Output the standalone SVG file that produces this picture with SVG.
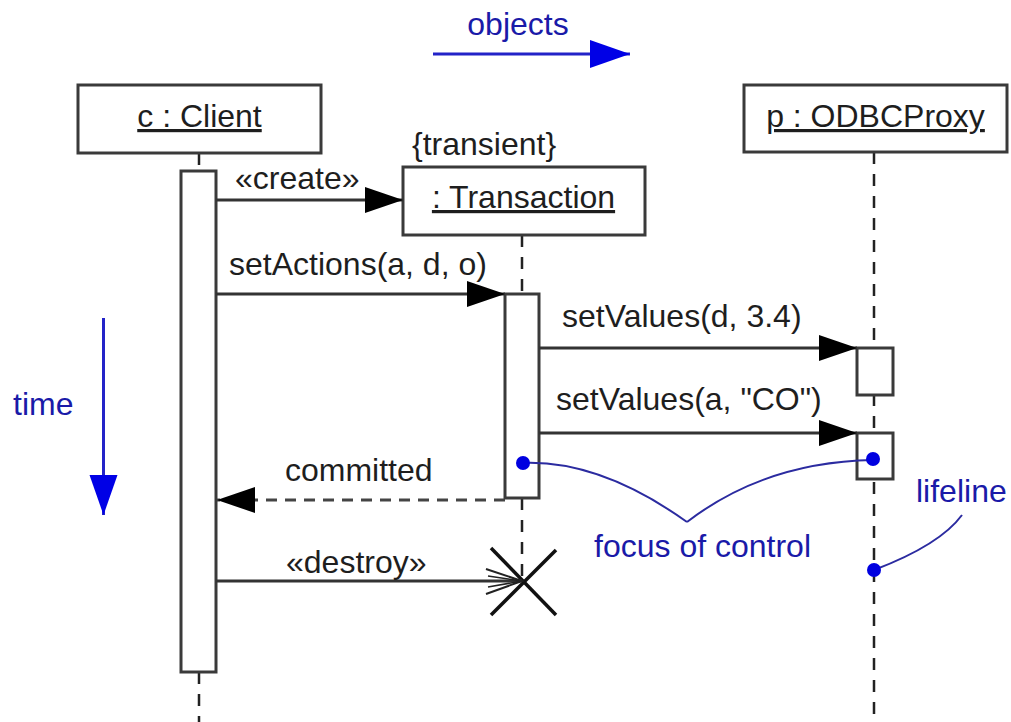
<svg xmlns="http://www.w3.org/2000/svg" width="1011" height="722" viewBox="0 0 1011 722">
<style>
  text { font-family: "Liberation Sans", Arial, sans-serif; font-size: 32px; fill: #1e1e1e; }
  .blue { fill: #1a1aa8; }
  .box { fill: #fff; stroke: #3a3a3a; stroke-width: 3; }
  .act { fill: #fff; stroke: #3a3a3a; stroke-width: 3; }
  .life { stroke: #222; stroke-width: 2.5; stroke-dasharray: 12 10; fill: none; }
  .msg { stroke: #333; stroke-width: 3; fill: none; }
  .ret { stroke: #444; stroke-width: 3; stroke-dasharray: 11 8; fill: none; }
  .ann { stroke: #2b2ba0; stroke-width: 2; fill: none; }
  .dot { fill: #0000e0; }
</style>
<defs>
  <marker id="filled" markerUnits="userSpaceOnUse" markerWidth="40" markerHeight="28" refX="38" refY="13" orient="auto">
    <path d="M0,0 L38,13 L0,26 z" fill="#000"/>
  </marker>
  <marker id="blueHead" markerUnits="userSpaceOnUse" markerWidth="42" markerHeight="30" refX="40" refY="14" orient="auto">
    <path d="M0,0 L40,14 L0,28 z" fill="#0000e6"/>
  </marker>
</defs>

<!-- annotation arrows -->
<g id="objects-axis">
  <text class="blue" x="518" y="35" text-anchor="middle">objects</text>
  <line x1="433" y1="54" x2="630" y2="54" stroke="#2323c8" stroke-width="3" marker-end="url(#blueHead)"/>
</g>
<g id="time-axis">
  <text class="blue" x="13" y="415">time</text>
  <line x1="103.5" y1="318" x2="103.5" y2="515" stroke="#2323c8" stroke-width="3" marker-end="url(#blueHead)"/>
</g>

<!-- lifelines -->
<g id="lifelines">
  <line class="life" x1="199" y1="153" x2="199" y2="171"/>
  <line class="life" x1="199" y1="672" x2="199" y2="722"/>
  <line class="life" x1="522" y1="235" x2="522" y2="294"/>
  <line class="life" x1="522" y1="498" x2="522" y2="582"/>
  <line class="life" x1="874" y1="152" x2="874" y2="722"/>
</g>

<!-- nodes -->
<g id="client">
  <rect class="box" x="78" y="85" width="243" height="68"/>
  <text x="199.5" y="127" text-anchor="middle" text-decoration="underline">c : Client</text>
  <rect class="act" x="181" y="171" width="35" height="501"/>
</g>
<g id="transaction">
  <text x="412" y="155">{transient}</text>
  <rect class="box" x="403" y="167" width="242" height="68"/>
  <text x="523.5" y="208" text-anchor="middle" text-decoration="underline">: Transaction</text>
  <rect class="act" x="505" y="294" width="34" height="204"/>
</g>
<g id="odbcproxy">
  <rect class="box" x="744" y="85" width="263" height="67"/>
  <text x="875.5" y="127" text-anchor="middle" text-decoration="underline">p : ODBCProxy</text>
  <rect class="act" x="857" y="348" width="36" height="47"/>
  <rect class="act" x="857" y="433" width="36" height="46"/>
</g>
<g id="destroy-mark">
  <line x1="491" y1="548" x2="556" y2="615" stroke="#111" stroke-width="3.5"/>
  <line x1="556" y1="550" x2="491" y2="615" stroke="#111" stroke-width="3.5"/>
</g>

<!-- connectors -->
<g id="connectors">
  <line class="msg" x1="216" y1="200" x2="403" y2="200" marker-end="url(#filled)"/>
  <text x="235" y="189">«create»</text>

  <line class="msg" x1="216" y1="294" x2="505" y2="294" marker-end="url(#filled)"/>
  <text x="229" y="275">setActions(a, d, o)</text>

  <line class="msg" x1="539" y1="348" x2="857" y2="348" marker-end="url(#filled)"/>
  <text x="562" y="327">setValues(d, 3.4)</text>

  <line class="msg" x1="539" y1="433" x2="857" y2="433" marker-end="url(#filled)"/>
  <text x="556" y="410">setValues(a, &quot;CO&quot;)</text>

  <line class="ret" x1="505" y1="500" x2="217" y2="500" marker-end="url(#filled)"/>
  <text x="285" y="481">committed</text>

  <line class="msg" x1="216" y1="581" x2="522" y2="581" stroke-width="2.5"/>
  <polyline points="486,569 522,581 486,594" fill="none" stroke="#222" stroke-width="2"/>
  <line x1="488" y1="576" x2="522" y2="581" stroke="#222" stroke-width="1.5"/>
  <line x1="488" y1="587" x2="522" y2="581" stroke="#222" stroke-width="1.5"/>
  <text x="286" y="573">«destroy»</text>
</g>

<!-- notes -->
<g id="focus-note">
  <path class="ann" d="M523,463 Q600,460 687,522"/>
  <path class="ann" d="M873,460 Q765,462 687,522"/>
  <circle class="dot" cx="523" cy="463" r="7"/>
  <circle class="dot" cx="873" cy="459" r="7"/>
  <text class="blue" x="594" y="557">focus of control</text>
</g>
<g id="lifeline-note">
  <path class="ann" d="M962,515 Q940,545 874,570"/>
  <circle class="dot" cx="874" cy="570" r="7"/>
  <text class="blue" x="916" y="502">lifeline</text>
</g>
</svg>
